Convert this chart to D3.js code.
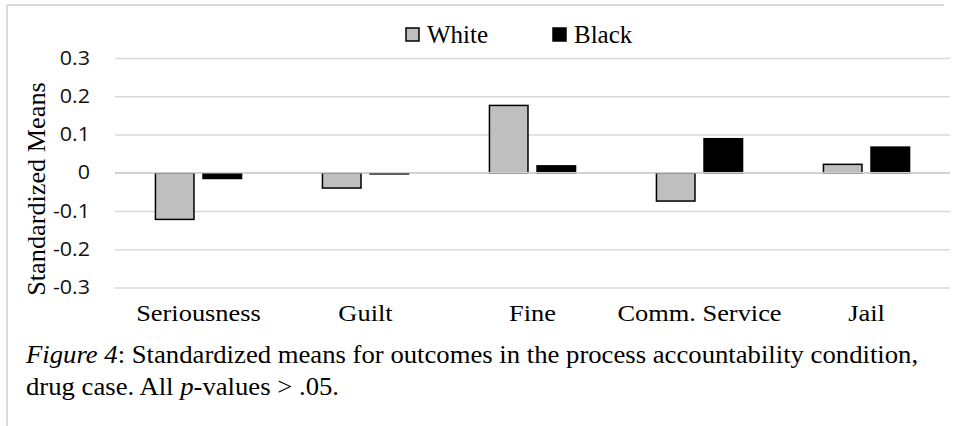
<!DOCTYPE html>
<html>
<head>
<meta charset="utf-8">
<script src="https://cdn.jsdelivr.net/npm/d3@7"></script>
<style>
  html, body { margin: 0; padding: 0; background: #ffffff; }
  svg { display: block; }
</style>
</head>
<body>
<svg id="chart" width="954" height="426"></svg>
<script>
const categories = ["Seriousness", "Guilt", "Fine", "Comm. Service", "Jail"];
const seriesNames = ["White", "Black"];
const whiteValues = [-0.122, -0.04, 0.176, -0.074, 0.022];
const blackValues = [-0.015, -0.003, 0.018, 0.089, 0.067];
const yTicks = [-0.3, -0.2, -0.1, 0, 0.1, 0.2, 0.3];
const yTickLabels = ["-0.3", "-0.2", "-0.1", "0", "0.1", "0.2", "0.3"];
const seriesColors = ["#bfbfbf", "#000000"];
const yTitle = "Standardized Means";
const captionLine1 = [["Figure 4", true], [": Standardized means for outcomes in the process accountability condition,", false]];
const captionLine2 = [["drug case. All ", false], ["p", true], ["-values > .05.", false]];

const seriesValues = [whiteValues, blackValues];
const data = categories.map((c, i) => ({
  category: c,
  values: seriesNames.map((s, j) => ({ series: s, value: seriesValues[j][i], idx: j }))
}));

const svg = d3.select("#chart");
const serif = "'Liberation Serif', 'Times New Roman', serif";
const sans = "'Open Sans', 'Liberation Sans', sans-serif";

// frame
svg.append("line").attr("x1", 7).attr("x2", 944).attr("y1", 5).attr("y2", 5)
  .attr("stroke", "#d9d9d9").attr("stroke-width", 2);
svg.append("line").attr("x1", 7).attr("x2", 7).attr("y1", 5).attr("y2", 426)
  .attr("stroke", "#d9d9d9").attr("stroke-width", 2);

const plotLeft = 115, plotRight = 950;
const y = d3.scaleLinear().domain([-0.3, 0.3]).range([287.5, 58]);
const x0 = d3.scaleBand().domain(categories).range([plotLeft, plotRight]).padding(0);
const x1 = d3.scaleBand().domain(seriesNames).range([0, x0.bandwidth()])
  .paddingInner(0.19).paddingOuter(0.85);

// gridlines
const yAxis = d3.axisLeft(y).tickValues(yTicks)
  .tickFormat((d, i) => yTickLabels[i])
  .tickSize(-(plotRight - plotLeft)).tickPadding(24);
const gAxis = svg.append("g").attr("transform", `translate(${plotLeft},0)`).call(yAxis);
gAxis.select(".domain").remove();
gAxis.selectAll(".tick line").attr("stroke", "#d9d9d9").attr("stroke-width", 1.5);
gAxis.selectAll(".tick text").attr("font-family", sans).attr("font-size", 19.5)
  .attr("fill", "#111").attr("x", 0)
  .attr("transform", "translate(-25,0) scale(1.1,1)");

// bars
const groups = svg.append("g").selectAll("g").data(data).join("g")
  .attr("transform", d => `translate(${x0(d.category)},0)`);
groups.selectAll("rect").data(d => d.values).join("rect")
  .attr("x", d => x1(d.series))
  .attr("width", x1.bandwidth())
  .attr("y", d => y(Math.max(0, d.value)))
  .attr("height", d => Math.abs(y(d.value) - y(0)))
  .attr("fill", d => seriesColors[d.idx])
  .attr("stroke", "#000").attr("stroke-width", 1.5);

// zero line over bars
svg.append("line").attr("x1", plotLeft).attr("x2", plotRight)
  .attr("y1", y(0)).attr("y2", y(0)).attr("stroke", "#d0d0d0").attr("stroke-width", 1.5);

// category labels
const xAxis = d3.axisBottom(x0).tickSize(0).tickPadding(0);
const gx = svg.append("g").attr("transform", `translate(0,${y(-0.3)})`).call(xAxis);
gx.select(".domain").remove();
gx.selectAll(".tick text").attr("font-family", serif).attr("font-size", 24)
  .attr("fill", "#000").attr("dy", null).attr("y", 0)
  .attr("transform", "translate(0,33) scale(1.1,1)");

// y title
svg.append("text")
  .attr("transform", `translate(45,189) rotate(-90) scale(1.05,1)`)
  .attr("text-anchor", "middle")
  .attr("font-family", serif).attr("font-size", 25).attr("fill", "#000")
  .text(yTitle);

// legend
const legendX = [406, 553];
const legend = svg.append("g").selectAll("g").data(seriesNames).join("g")
  .attr("transform", (d, i) => `translate(${legendX[i]},28)`);
legend.append("rect").attr("width", 13).attr("height", 13)
  .attr("fill", (d, i) => seriesColors[i]).attr("stroke", "#000").attr("stroke-width", 1.5);
legend.append("text").attr("x", 21).attr("y", 15)
  .attr("font-family", serif).attr("font-size", 25).attr("fill", "#000")
  .text(d => d);

// caption
function caption(parts, yPos) {
  const t = svg.append("text").attr("transform", `translate(26,${yPos}) scale(1.09,1)`)
    .attr("font-family", serif).attr("font-size", 24.5).attr("fill", "#000");
  parts.forEach(([s, it]) => t.append("tspan").attr("font-style", it ? "italic" : "normal").text(s));
}
caption(captionLine1, 363);
caption(captionLine2, 395);
</script>
</body>
</html>
